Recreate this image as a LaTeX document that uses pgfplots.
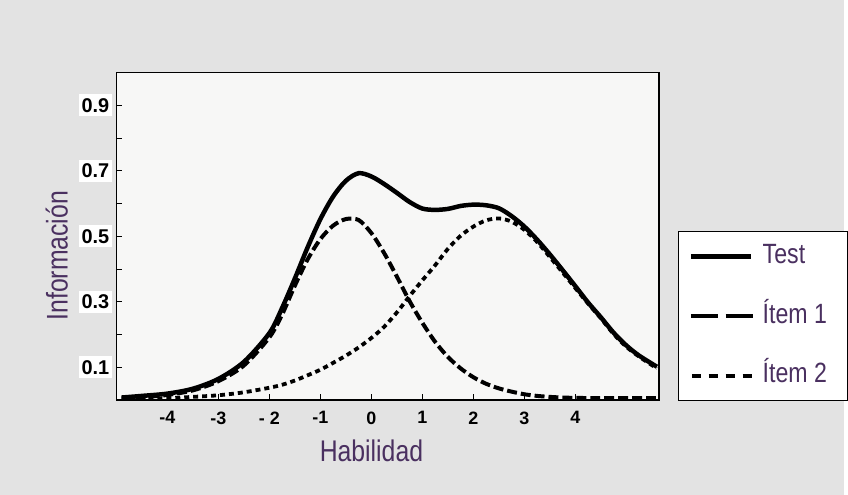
\documentclass[border=0pt]{standalone}
\usepackage{pgfplots}
\pgfplotsset{compat=1.18}
\usepackage{fontspec}
\setmainfont{Liberation Sans}
\newfontfamily\narrowfont[FakeStretch=0.83]{Liberation Sans}
\definecolor{bggray}{HTML}{E3E3E3}
\definecolor{plotbg}{HTML}{F7F7F6}
\definecolor{labcol}{HTML}{4A3060}

\pgfplotstableread{
x y
-4.9 0.008
-4.5 0.013
-4 0.020
-3.5 0.035
-3 0.065
-2.5 0.117
-2 0.205
-1.75 0.282
-1.5 0.372
-1.25 0.467
-1 0.553
-0.75 0.622
-0.5 0.670
-0.25 0.693
0 0.683
0.25 0.660
0.5 0.633
0.75 0.605
1 0.585
1.25 0.581
1.5 0.584
1.75 0.593
2 0.597
2.25 0.595
2.5 0.586
2.75 0.562
3 0.530
3.25 0.490
3.5 0.445
3.75 0.397
4 0.348
4.25 0.298
4.5 0.253
4.75 0.206
5 0.167
5.25 0.136
5.6 0.102
}\testdata

\pgfplotstableread{
x y
-4.9 0.005
-4.5 0.009
-4 0.016
-3.5 0.030
-3 0.058
-2.5 0.106
-2 0.192
-1.75 0.262
-1.5 0.350
-1.25 0.430
-1 0.492
-0.75 0.533
-0.5 0.553
-0.25 0.550
0 0.510
0.25 0.449
0.5 0.377
0.75 0.302
1 0.236
1.25 0.178
1.5 0.132
1.75 0.097
2 0.070
2.25 0.050
2.5 0.036
2.75 0.026
3 0.018
3.25 0.013
3.5 0.010
3.75 0.008
4 0.007
4.5 0.006
5 0.006
5.6 0.006
}\itemone

\pgfplotstableread{
x y
-4.9 0.003
-4.5 0.004
-4 0.006
-3.5 0.010
-3 0.015
-2.5 0.024
-2 0.038
-1.75 0.047
-1.5 0.060
-1.25 0.076
-1 0.093
-0.75 0.114
-0.5 0.136
-0.25 0.161
0 0.190
0.25 0.224
0.5 0.268
0.75 0.318
1 0.366
1.25 0.412
1.5 0.462
1.75 0.502
2 0.530
2.25 0.549
2.5 0.555
2.75 0.545
3 0.520
3.25 0.483
3.5 0.437
3.75 0.390
4 0.342
4.25 0.295
4.5 0.250
4.75 0.202
5 0.163
5.25 0.133
5.6 0.097
}\itemtwo

\begin{document}
\begin{tikzpicture}
\fill[bggray] (0pt,0pt) rectangle (848pt,497pt);
\begin{axis}[
  at={(117pt,95pt)}, anchor=south west,
  scale only axis, width=545pt, height=329pt,
  xmin=-5, xmax=5.64, ymin=0, ymax=1.0,
  axis background/.style={fill=plotbg},
  axis line style={line width=1.6pt, black},
  xtick={-4,-3,-2,-1,0,1,2,3,4},
  xticklabels={-4,-3,- 2,-1,0,1,2,3,4},
  ytick={0.1,0.3,0.5,0.7,0.9},
  yticklabels={0.1,0.3,0.5,0.7,0.9},
  minor ytick={0.2,0.4,0.6,0.8},
  xtick pos=bottom, ytick pos=left,
  tick align=inside,
  major tick length=6pt, minor tick length=6pt,
  tick style={line width=1pt, black},
  xticklabel style={font=\fontsize{18}{20}\selectfont\bfseries, yshift=-8pt},
  yticklabel style={font=\fontsize{20}{22}\selectfont\bfseries, fill=white, inner xsep=3pt, inner ysep=4pt, xshift=-4pt},
  xlabel={Habilidad},
  ylabel={Información},
  xlabel style={at={(axis description cs:0.47,-0.155)}, anchor=center, font=\narrowfont\fontsize{30}{32}\selectfont, text=labcol},
  ylabel style={at={(axis description cs:-0.110,0.441)}, anchor=center, font=\narrowfont\fontsize{30}{32}\selectfont, text=labcol},
  legend style={at={(axis description cs:1.035,0.517)}, anchor=north west,
    draw=black, line width=1.3pt, fill=white, inner xsep=10pt, inner ysep=12pt,
    font=\narrowfont\fontsize{28}{30}\selectfont, text=labcol,
    row sep=34pt, nodes={inner sep=0pt, text height=20pt, text depth=6pt},
    /tikz/every odd column/.append style={column sep=8pt}},
  legend cell align=left,
]
\addplot[black, line width=4.5pt, smooth, tension=0.5,
  legend image code/.code={\draw[black, line width=4.5pt] (0pt,0pt) -- (60pt,0pt);}]
  table[x=x, y=y] {\testdata};
\addlegendentry{\makebox[75pt][l]{Test}}
\addplot[black, line width=4pt, smooth, tension=0.5, dash pattern=on 10pt off 4pt,
  legend image code/.code={\draw[black, line width=4.5pt, dash pattern=on 27pt off 8pt] (0pt,0pt) -- (62pt,0pt);}]
  table[x=x, y=y] {\itemone};
\addlegendentry{\makebox[75pt][l]{Ítem 1}}
\addplot[black, line width=3.8pt, smooth, tension=0.5, dash pattern=on 5pt off 4pt,
  legend image code/.code={\draw[black, line width=4.5pt, dash pattern=on 9pt off 8pt] (1pt,0pt) -- (61pt,0pt);}]
  table[x=x, y=y] {\itemtwo};
\addlegendentry{\makebox[75pt][l]{Ítem 2}}
\end{axis}
\end{tikzpicture}
\end{document}
